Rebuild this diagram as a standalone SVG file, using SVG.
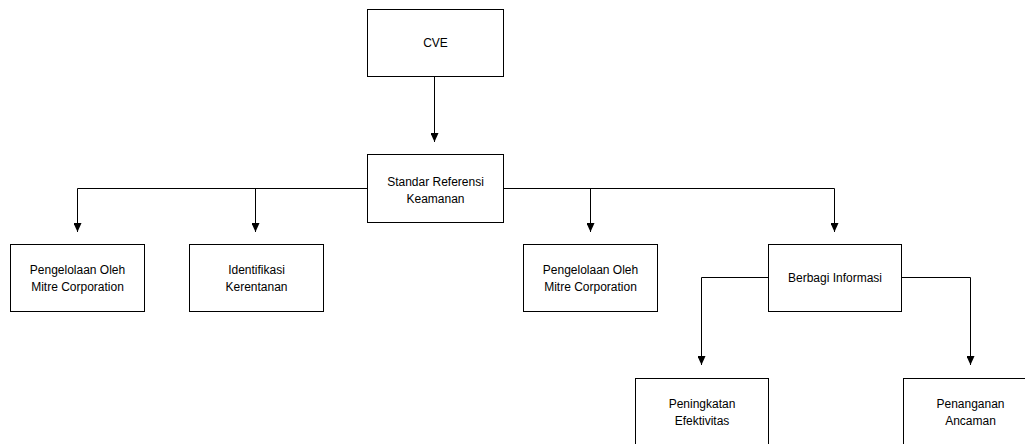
<svg xmlns="http://www.w3.org/2000/svg" width="1025" height="444" viewBox="0 0 1025 444">
  <style>
    .box { fill: #ffffff; stroke: #000000; stroke-width: 1; }
    .lbl { font-family: "Liberation Sans", Arial, Helvetica, sans-serif; font-size: 12px; fill: #000000; text-anchor: middle; }
    .edge { fill: none; stroke: #000000; stroke-width: 1; marker-end: url(#arrow); }
  </style>
  <defs>
    <!-- filled triangular arrowhead, tip at the end of the line -->
    <marker id="arrow" markerWidth="9" markerHeight="8" refX="9" refY="4" orient="auto" markerUnits="userSpaceOnUse" viewBox="0 0 9 8">
      <path d="M0,0 L9,4 L0,8 Z" fill="#000000"/>
    </marker>
  </defs>
  <rect width="1025" height="444" fill="#ffffff"/>

  <g id="connectors">
    <path class="edge" d="M434.5,76 V142"/>
    <path class="edge" d="M367,188.5 H77.5 V232"/>
    <path class="edge" d="M255.5,188.5 V232"/>
    <path class="edge" d="M503,188.5 H834.5 V232"/>
    <path class="edge" d="M590.5,188.5 V232"/>
    <path class="edge" d="M768,277.5 H701.5 V365"/>
    <path class="edge" d="M901,277.5 H970.5 V365"/>
  </g>

  <g id="cve">
    <rect class="box" x="367.5" y="9.5" width="136" height="67"/>
    <text class="lbl" x="435.5" y="47">CVE</text>
  </g>
  <g id="standar">
    <rect class="box" x="367.5" y="154.5" width="136" height="68"/>
    <text class="lbl" x="435.5" y="186">Standar Referensi</text>
    <text class="lbl" x="435.5" y="203">Keamanan</text>
  </g>
  <g id="pengelolaan1">
    <rect class="box" x="10.5" y="244.5" width="134" height="67"/>
    <text class="lbl" x="77.5" y="274">Pengelolaan Oleh</text>
    <text class="lbl" x="77.5" y="291">Mitre Corporation</text>
  </g>
  <g id="identifikasi">
    <rect class="box" x="189.5" y="244.5" width="134" height="67"/>
    <text class="lbl" x="256.5" y="274">Identifikasi</text>
    <text class="lbl" x="256.5" y="291">Kerentanan</text>
  </g>
  <g id="pengelolaan2">
    <rect class="box" x="523.5" y="244.5" width="134" height="67"/>
    <text class="lbl" x="590.5" y="274">Pengelolaan Oleh</text>
    <text class="lbl" x="590.5" y="291">Mitre Corporation</text>
  </g>
  <g id="berbagi">
    <rect class="box" x="768.5" y="244.5" width="133" height="67"/>
    <text class="lbl" x="835" y="282">Berbagi Informasi</text>
  </g>
  <g id="peningkatan">
    <rect class="box" x="635.5" y="378.5" width="133" height="67"/>
    <text class="lbl" x="702" y="408">Peningkatan</text>
    <text class="lbl" x="702" y="425">Efektivitas</text>
  </g>
  <g id="penanganan">
    <rect class="box" x="903.5" y="378.5" width="134" height="67"/>
    <text class="lbl" x="970.5" y="408">Penanganan</text>
    <text class="lbl" x="970.5" y="425">Ancaman</text>
  </g>
</svg>
